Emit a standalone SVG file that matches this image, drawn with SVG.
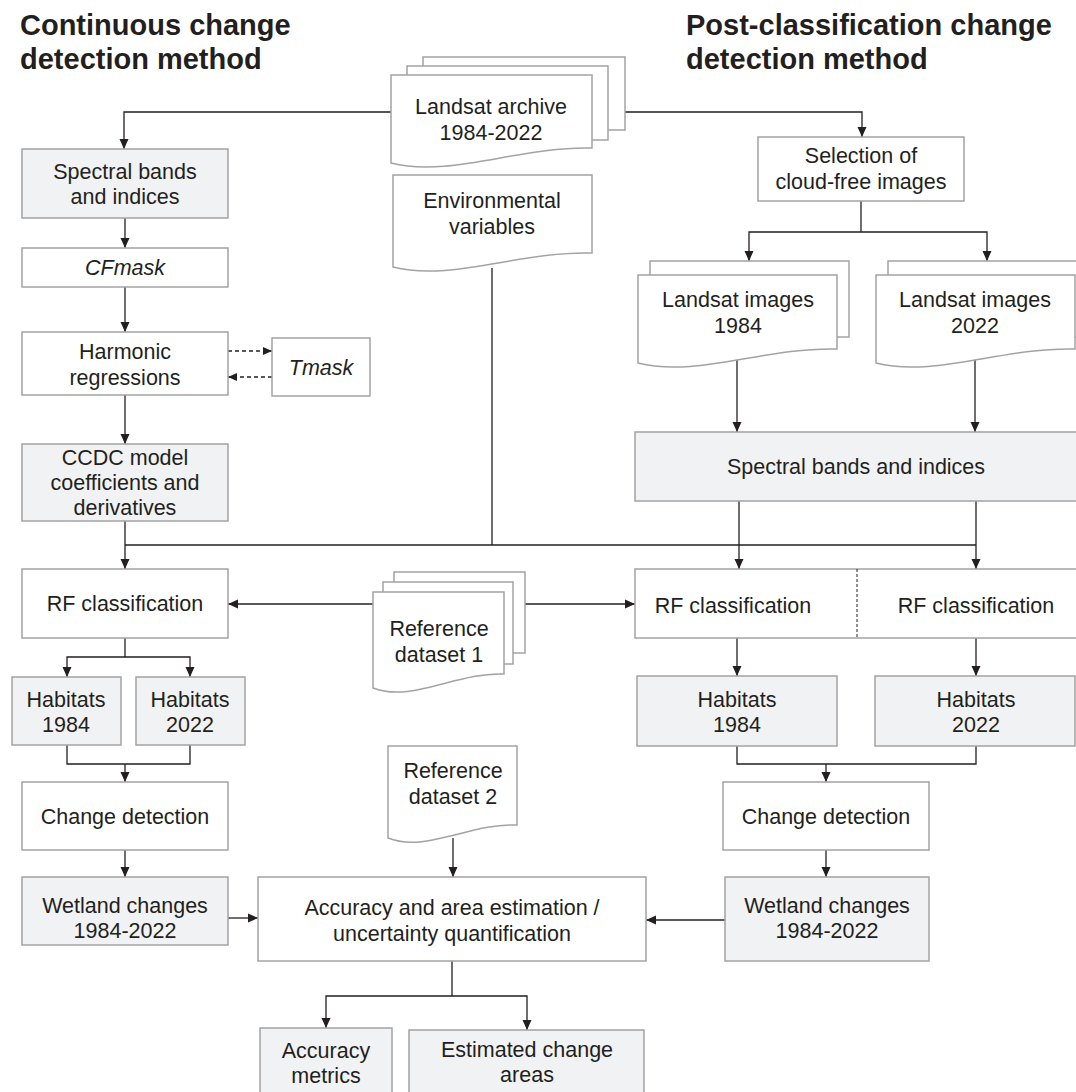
<svg xmlns="http://www.w3.org/2000/svg" width="1076" height="1092" viewBox="0 0 1076 1092">
<defs>
<style>
.box{stroke:#a3a3a3;stroke-width:1.5;fill:#ffffff}
.g{fill:#f1f2f4}
.t{font-family:"Liberation Sans",Arial,sans-serif;font-size:21.5px;fill:#231f20;text-anchor:middle}
.i{font-style:italic}
.title{font-family:"Liberation Sans",Arial,sans-serif;font-size:29px;font-weight:bold;fill:#231f20}
.c{fill:none;stroke:#231f20;stroke-width:1.3}
.a{marker-end:url(#ah)}
.d{stroke-dasharray:4 3;marker-end:url(#ahs)}
</style>
<marker id="ah" markerUnits="userSpaceOnUse" markerWidth="10" markerHeight="10" refX="10" refY="5" orient="auto">
<path d="M0,0.5 L10,5 L0,9.5 z" fill="#231f20"/>
</marker>
<marker id="ahs" markerUnits="userSpaceOnUse" markerWidth="9" markerHeight="8" refX="9" refY="4" orient="auto">
<path d="M0,0 L9,4 L0,8 z" fill="#231f20"/>
</marker>
</defs>
<rect width="1076" height="1092" fill="#ffffff"/>

<g id="titles">
<text class="title" x="20" y="35">Continuous change</text>
<text class="title" x="20" y="69">detection method</text>
<text class="title" x="686" y="35">Post-classification change</text>
<text class="title" x="686" y="69">detection method</text>
</g>

<g id="connectors">
<polyline class="c a" points="391,112 124,112 124,149"/>
<polyline class="c a" points="625,112 862,112 862,137"/>
<line class="c a" x1="125" y1="218" x2="125" y2="248"/>
<line class="c a" x1="125" y1="287" x2="125" y2="332"/>
<line class="c d" x1="228" y1="351" x2="272" y2="351"/>
<line class="c d" x1="272" y1="377" x2="228" y2="377"/>
<line class="c a" x1="125" y1="395" x2="125" y2="444"/>
<line class="c a" x1="125" y1="521" x2="125" y2="569"/>
<line class="c" x1="125" y1="545" x2="976" y2="545"/>
<line class="c" x1="492" y1="268" x2="492" y2="545"/>
<line class="c" x1="861" y1="201" x2="861" y2="232"/>
<polyline class="c a" points="861,232 749,232 749,261"/>
<polyline class="c a" points="861,232 987,232 987,261"/>
<line class="c a" x1="737" y1="358" x2="737" y2="432"/>
<line class="c a" x1="975" y1="358" x2="975" y2="432"/>
<line class="c a" x1="739" y1="501" x2="739" y2="569"/>
<line class="c a" x1="976" y1="501" x2="976" y2="569"/>
<line class="c a" x1="373" y1="604" x2="228" y2="604"/>
<line class="c a" x1="525" y1="604" x2="635" y2="604"/>
<line class="c" x1="125" y1="638" x2="125" y2="657"/>
<polyline class="c a" points="125,657 67,657 67,677"/>
<polyline class="c a" points="125,657 190,657 190,677"/>
<polyline class="c" points="67,745 67,764 190,764 190,745"/>
<line class="c a" x1="125" y1="764" x2="125" y2="782"/>
<line class="c a" x1="125" y1="850" x2="125" y2="877"/>
<line class="c a" x1="228" y1="918" x2="258" y2="918"/>
<line class="c a" x1="737" y1="638" x2="737" y2="676"/>
<line class="c a" x1="976" y1="638" x2="976" y2="676"/>
<polyline class="c" points="737,746 737,764 976,764 976,746"/>
<line class="c a" x1="826" y1="764" x2="826" y2="782"/>
<line class="c a" x1="826" y1="850" x2="826" y2="877"/>
<line class="c a" x1="725" y1="920" x2="646" y2="920"/>
<line class="c a" x1="453" y1="838" x2="453" y2="877"/>
<line class="c" x1="452" y1="961" x2="452" y2="996"/>
<polyline class="c a" points="452,996 326,996 326,1028"/>
<polyline class="c a" points="452,996 527,996 527,1030"/>
</g>

<g id="landsat-archive">
<rect class="box" x="423" y="57" width="202" height="73"/>
<rect class="box" x="407" y="66" width="201" height="74"/>
<path class="box" d="M391,75 H592 V148 C520,146 450,178 391,163 Z"/>
<text class="t" x="491" y="114">Landsat archive</text>
<text class="t" x="491" y="140">1984-2022</text>
</g>

<g id="environmental-variables">
<path class="box" d="M393,175 H592 V253 C520,251 451,282 393,267 Z"/>
<text class="t" x="492" y="208">Environmental</text>
<text class="t" x="492" y="234">variables</text>
</g>

<g id="spectral-left">
<rect class="box g" x="22" y="149" width="206" height="69"/>
<text class="t" x="125" y="179">Spectral bands</text>
<text class="t" x="125" y="204">and indices</text>
</g>

<g id="cfmask">
<rect class="box" x="22" y="248" width="206" height="39"/>
<text class="t i" x="125" y="275">CFmask</text>
</g>

<g id="harmonic">
<rect class="box" x="22" y="332" width="206" height="63"/>
<text class="t" x="125" y="359">Harmonic</text>
<text class="t" x="125" y="385">regressions</text>
</g>

<g id="tmask">
<rect class="box" x="272" y="338" width="98" height="58"/>
<text class="t i" x="321" y="375">Tmask</text>
</g>

<g id="ccdc">
<rect class="box g" x="22" y="444" width="206" height="77"/>
<text class="t" x="125" y="465">CCDC model</text>
<text class="t" x="125" y="490">coefficients and</text>
<text class="t" x="125" y="515">derivatives</text>
</g>

<g id="rf-left">
<rect class="box" x="22" y="569" width="206" height="69"/>
<text class="t" x="125" y="611">RF classification</text>
</g>

<g id="reference-dataset-1">
<rect class="box" x="394" y="572" width="131" height="81"/>
<rect class="box" x="383" y="582" width="130" height="82"/>
<path class="box" d="M373,592 H504 V674 C457,672 411,703 373,688 Z"/>
<text class="t" x="439" y="636">Reference</text>
<text class="t" x="439" y="662">dataset 1</text>
</g>

<g id="habitats-1984-left">
<rect class="box g" x="12" y="677" width="109" height="68"/>
<text class="t" x="66" y="707">Habitats</text>
<text class="t" x="66" y="732">1984</text>
</g>

<g id="habitats-2022-left">
<rect class="box g" x="136" y="677" width="109" height="68"/>
<text class="t" x="190" y="707">Habitats</text>
<text class="t" x="190" y="732">2022</text>
</g>

<g id="change-left">
<rect class="box" x="22" y="782" width="206" height="68"/>
<text class="t" x="125" y="824">Change detection</text>
</g>

<g id="wetland-left">
<rect class="box g" x="22" y="877" width="206" height="68"/>
<text class="t" x="125" y="913">Wetland changes</text>
<text class="t" x="125" y="938">1984-2022</text>
</g>

<g id="reference-dataset-2">
<path class="box" d="M388,746 H517 V825 C471,823 425,853 388,838 Z"/>
<text class="t" x="453" y="778">Reference</text>
<text class="t" x="453" y="804">dataset 2</text>
</g>

<g id="accuracy-estimation">
<rect class="box" x="258" y="877" width="388" height="84"/>
<text class="t" x="452" y="915">Accuracy and area estimation /</text>
<text class="t" x="452" y="941">uncertainty quantification</text>
</g>

<g id="accuracy-metrics">
<rect class="box g" x="260" y="1028" width="132" height="80"/>
<text class="t" x="326" y="1058">Accuracy</text>
<text class="t" x="326" y="1083">metrics</text>
</g>

<g id="estimated-change-areas">
<rect class="box g" x="409" y="1030" width="235" height="80"/>
<text class="t" x="527" y="1057">Estimated change</text>
<text class="t" x="527" y="1082">areas</text>
</g>

<g id="selection">
<rect class="box" x="758" y="137" width="206" height="64"/>
<text class="t" x="861" y="163">Selection of</text>
<text class="t" x="861" y="189">cloud-free images</text>
</g>

<g id="landsat-images-1984">
<rect class="box" x="650" y="261" width="199" height="76"/>
<path class="box" d="M638,275 H837 V349 C765,347 696,378 638,363 Z"/>
<text class="t" x="738" y="307">Landsat images</text>
<text class="t" x="738" y="333">1984</text>
</g>

<g id="landsat-images-2022">
<rect class="box" x="888" y="261" width="199" height="76"/>
<path class="box" d="M876,275 H1075 V349 C1003,347 934,378 876,363 Z"/>
<text class="t" x="975" y="307">Landsat images</text>
<text class="t" x="975" y="333">2022</text>
</g>

<g id="spectral-right">
<rect class="box g" x="635" y="432" width="445" height="69"/>
<text class="t" x="856" y="474">Spectral bands and indices</text>
</g>

<g id="rf-right">
<rect class="box" x="635" y="569" width="445" height="69"/>
<line x1="857" y1="569" x2="857" y2="638" stroke="#231f20" stroke-width="1" stroke-dasharray="3 2"/>
<text class="t" x="733" y="613">RF classification</text>
<text class="t" x="976" y="613">RF classification</text>
</g>

<g id="habitats-1984-right">
<rect class="box g" x="637" y="676" width="200" height="70"/>
<text class="t" x="737" y="707">Habitats</text>
<text class="t" x="737" y="732">1984</text>
</g>

<g id="habitats-2022-right">
<rect class="box g" x="875" y="676" width="200" height="70"/>
<text class="t" x="976" y="707">Habitats</text>
<text class="t" x="976" y="732">2022</text>
</g>

<g id="change-right">
<rect class="box" x="723" y="782" width="206" height="68"/>
<text class="t" x="826" y="824">Change detection</text>
</g>

<g id="wetland-right">
<rect class="box g" x="725" y="877" width="204" height="84"/>
<text class="t" x="827" y="913">Wetland changes</text>
<text class="t" x="827" y="938">1984-2022</text>
</g>
</svg>
